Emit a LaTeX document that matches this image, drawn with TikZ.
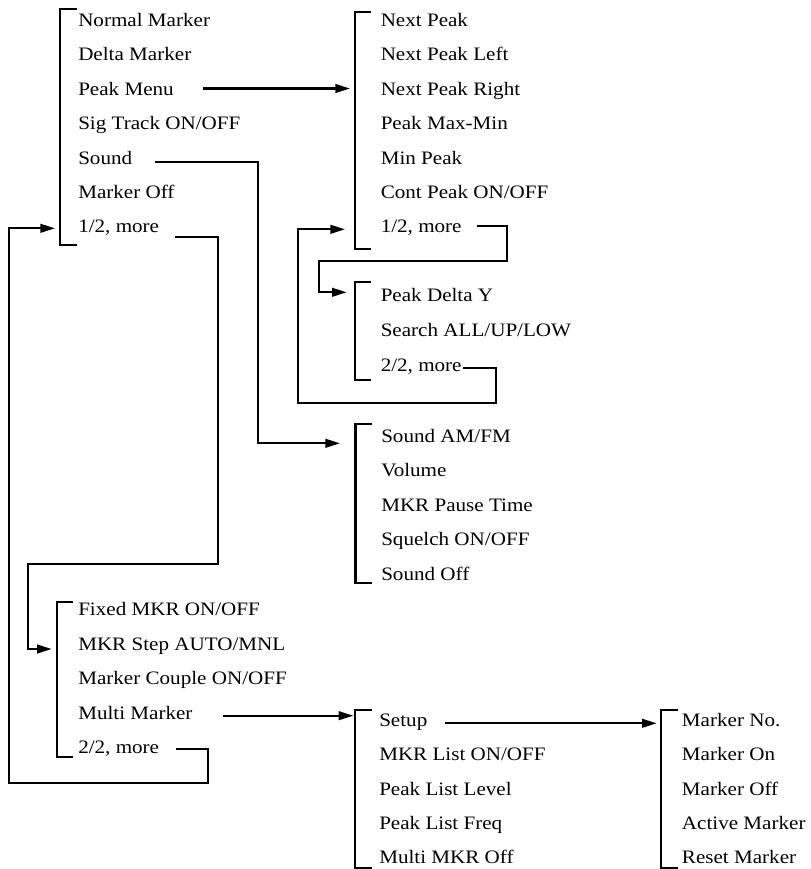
\documentclass[tikz,border=0pt]{standalone}
\usepackage{fontspec}
\setmainfont{Liberation Serif}
\usepackage{graphicx}
\usetikzlibrary{arrows.meta}
% menu labels are set slightly wide
\newcommand\menutext[1]{\scalebox{1.11}[1]{#1}}
\begin{document}
\begin{tikzpicture}[x=0.75pt,y=-0.75pt,
  item/.style={anchor=base west, inner sep=0pt, font=\fontsize{14.25pt}{16pt}\selectfont},
  bracket/.style={line width=1.6pt},
  link/.style={line width=1.6pt},
  linkarrow/.style={link, -{Triangle[length=11pt,width=6.5pt]}}]
\useasboundingbox (0,0) rectangle (811,869);

% ---------- main marker menu, page 1 ----------
\node[item] (m1) at (78,26.5)  {\menutext{Normal Marker}};
\node[item] (m2) at (78,60.9)  {\menutext{Delta Marker}};
\node[item] (m3) at (78,95.3)  {\menutext{Peak Menu}};
\node[item] (m4) at (78,129.7) {\menutext{Sig Track ON/OFF}};
\node[item] (m5) at (78,164.1) {\menutext{Sound}};
\node[item] (m6) at (78,198.5) {\menutext{Marker Off}};
\node[item] (m7) at (78,232.9) {\menutext{1/2, more}};
\draw[bracket] (76.7,9.3) -| (60,245) -- (76.7,245);
\coordinate (mainin) at (55,228.3);

% ---------- peak menu, page 1 ----------
\node[item] (p1) at (380.5,26.5)  {\menutext{Next Peak}};
\node[item] (p2) at (380.5,60.9)  {\menutext{Next Peak Left}};
\node[item] (p3) at (380.5,95.3)  {\menutext{Next Peak Right}};
\node[item] (p4) at (380.5,129.7) {\menutext{Peak Max-Min}};
\node[item] (p5) at (380.5,164.1) {\menutext{Min Peak}};
\node[item] (p6) at (380.5,198.5) {\menutext{Cont Peak ON/OFF}};
\node[item] (p7) at (380.5,232.9) {\menutext{1/2, more}};
\draw[bracket] (371,12.3) -| (355,249.3) -- (371,249.3);
\coordinate (peakin)  at (350,88.5);
\coordinate (peakin2) at (345,229.3);

% ---------- peak menu, page 2 ----------
\node[item] (q1) at (380.5,301.5) {\menutext{Peak Delta Y}};
\node[item] (q2) at (380.5,336.5) {\menutext{Search ALL/UP/LOW}};
\node[item] (q3) at (380.5,371.5) {\menutext{2/2, more}};
\draw[bracket] (371,282.3) -| (355,380) -- (371,380);
\coordinate (pk2in) at (346.7,292.3);

% ---------- sound menu ----------
\node[item] (s1) at (381,442.5) {\menutext{Sound AM/FM}};
\node[item] (s2) at (381,476.9) {\menutext{Volume}};
\node[item] (s3) at (381,511.3) {\menutext{MKR Pause Time}};
\node[item] (s4) at (381,545.7) {\menutext{Squelch ON/OFF}};
\node[item] (s5) at (381,580.1) {\menutext{Sound Off}};
\draw[bracket] (372,424.3) -| (355.5,583.3) -- (372,583.3);
\coordinate (soundin) at (340,443.3);

% ---------- main marker menu, page 2 ----------
\node[item] (n1) at (78,615.5) {\menutext{Fixed MKR ON/OFF}};
\node[item] (n2) at (78,650.1) {\menutext{MKR Step AUTO/MNL}};
\node[item] (n3) at (78,684.7) {\menutext{Marker Couple ON/OFF}};
\node[item] (n4) at (78,719.3) {\menutext{Multi Marker}};
\node[item] (n5) at (78,753.9) {\menutext{2/2, more}};
\draw[bracket] (72.7,601.7) -| (56.7,756.7) -- (72.7,756.7);
\coordinate (main2in) at (51.7,649);

% ---------- multi marker menu ----------
\node[item] (u1) at (379,726.7) {\menutext{Setup}};
\node[item] (u2) at (379,760.9) {\menutext{MKR List ON/OFF}};
\node[item] (u3) at (379,795.1) {\menutext{Peak List Level}};
\node[item] (u4) at (379,829.3) {\menutext{Peak List Freq}};
\node[item] (u5) at (379,863.5) {\menutext{Multi MKR Off}};
\draw[bracket] (371.7,710) -| (355,867.6) -- (371.7,867.6);
\coordinate (multiin) at (353.3,715.7);

% ---------- setup menu ----------
\node[item] (r1) at (681.7,726.7) {\menutext{Marker No.}};
\node[item] (r2) at (681.7,760.9) {\menutext{Marker On}};
\node[item] (r3) at (681.7,795.1) {\menutext{Marker Off}};
\node[item] (r4) at (681.7,829.3) {\menutext{Active Marker}};
\node[item] (r5) at (681.7,863.5) {\menutext{Reset Marker}};
\draw[bracket] (678,710) -| (661,867.6) -- (678,867.6);
\coordinate (setupin) at (656.7,723.3);

% ---------- connectors ----------
\coordinate (m3out) at (203,88.5);
\coordinate (m5out) at (155,162.3);
\coordinate (m7out) at (175,236.7);
\coordinate (p7out) at (476.5,225.7);
\coordinate (q3out) at (463.3,367.7);
\coordinate (n4out) at (222.7,715.7);
\coordinate (n5out) at (175.7,749.3);
\coordinate (u1out) at (445,723.3);

\draw[linkarrow] (m3out) -- (peakin);
\draw[linkarrow] (m5out) -- (258.3,162.3) |- (soundin);
\draw[linkarrow] (m7out) -- (218,236.7) -- (218,564.3) -| (28.3,649) -- (main2in);
\draw[linkarrow] (n5out) -- (208.3,749.3) -- (208.3,782.7) -| (8.7,228.3) -- (mainin);
\draw[linkarrow] (p7out) -- (507.3,225.7) -- (507.3,261) -| (319,292.3) -- (pk2in);
\draw[linkarrow] (q3out) -- (496,367.7) -- (496,403.3) -| (297.7,229.3) -- (peakin2);
\draw[linkarrow] (n4out) -- (multiin);
\draw[linkarrow] (u1out) -- (setupin);
\end{tikzpicture}
\end{document}
